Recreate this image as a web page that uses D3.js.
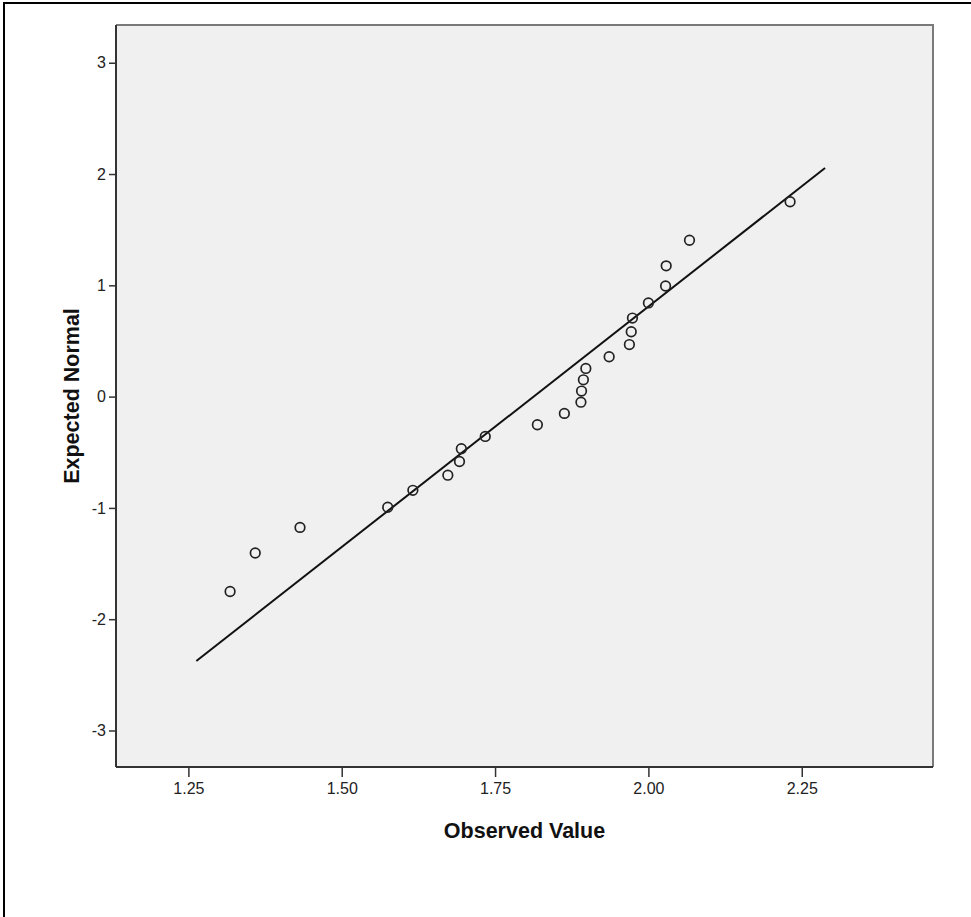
<!DOCTYPE html>
<html>
<head>
<meta charset="utf-8">
<script src="https://cdn.jsdelivr.net/npm/d3@7"></script>
<style>
  body { margin: 0; background: #fff; }
  svg { display: block; }
</style>
</head>
<body>
<div id="chart"></div>
<script>
// observed values (sorted) and their expected normal scores
var observed = [1.318, 1.359, 1.432, 1.575, 1.616, 1.673, 1.692, 1.695, 1.734, 1.819, 1.863, 1.890,
                1.891, 1.894, 1.898, 1.936, 1.969, 1.972, 1.974, 2.000, 2.028, 2.029, 2.067, 2.231];
var expected = [-1.751, -1.405, -1.175, -0.994, -0.842, -0.706, -0.583, -0.468, -0.358, -0.253, -0.151, -0.050,
                0.050, 0.151, 0.253, 0.358, 0.468, 0.583, 0.706, 0.842, 0.994, 1.175, 1.405, 1.751];
// reference line end points
var lineX = [1.263, 2.288];
var lineY = [-2.376, 2.054];
var xTicks = [1.25, 1.50, 1.75, 2.00, 2.25];
var yTicks = [-3, -2, -1, 0, 1, 2, 3];

var w = 971, h = 917;
var pLeft = 116, pTop = 25, pRight = 933, pBottom = 767;

var svg = d3.select("#chart").append("svg").attr("width", w).attr("height", h);

// outer frame (only top and left edges visible)
svg.append("path").attr("d", "M4,917 L4,3 L971,3")
    .attr("fill", "none").attr("stroke", "#000").attr("stroke-width", 2);

var x = d3.scaleLinear().domain([1.132, 2.464]).range([pLeft, pRight]);
var y = d3.scaleLinear().domain([-3.328, 3.339]).range([pBottom, pTop]);

svg.append("rect")
    .attr("x", pLeft).attr("y", pTop)
    .attr("width", pRight - pLeft).attr("height", pBottom - pTop)
    .attr("fill", "#f0f0f0");
// top and right border
svg.append("path").attr("d", "M" + pLeft + "," + pTop + " L" + pRight + "," + pTop + " L" + pRight + "," + pBottom)
    .attr("fill", "none").attr("stroke", "#7a7a7a").attr("stroke-width", 2);

var xAxis = svg.append("g").attr("transform", "translate(0," + pBottom + ")")
    .call(d3.axisBottom(x).tickValues(xTicks).tickFormat(d3.format(".2f")).tickSizeInner(10).tickSizeOuter(0).tickPadding(6));
var yAxis = svg.append("g").attr("transform", "translate(" + pLeft + ",0)")
    .call(d3.axisLeft(y).tickValues(yTicks).tickFormat(function (d) { return String(d); }).tickSizeInner(7).tickSizeOuter(0).tickPadding(3));

[xAxis, yAxis].forEach(function (g) {
    g.select(".domain").attr("stroke", "#333").attr("stroke-width", 2);
    g.selectAll(".tick line").attr("stroke", "#333").attr("stroke-width", 1.5);
    g.selectAll(".tick text")
        .attr("font-family", "'Liberation Sans', Arial, sans-serif")
        .attr("font-size", 16).attr("fill", "#222");
});
yAxis.select(".domain").attr("d", "M0," + pTop + "V" + pBottom);
xAxis.select(".domain").attr("d", "M" + pLeft + ",0H" + pRight);

// reference line
svg.append("line")
    .attr("x1", x(lineX[0])).attr("y1", y(lineY[0]))
    .attr("x2", x(lineX[1])).attr("y2", y(lineY[1]))
    .attr("stroke", "#111").attr("stroke-width", 2);

svg.selectAll("circle.pt")
    .data(observed)
    .enter()
    .append("circle")
    .attr("class", "pt")
    .attr("cx", function (d) { return x(d); })
    .attr("cy", function (d, i) { return y(expected[i]); })
    .attr("r", 4.8)
    .attr("fill", "none")
    .attr("stroke", "#222")
    .attr("stroke-width", 1.7);

// axis titles
svg.append("text")
    .attr("x", (pLeft + pRight) / 2).attr("y", 838)
    .attr("text-anchor", "middle")
    .attr("font-family", "'Liberation Sans', Arial, sans-serif")
    .attr("font-weight", "bold").attr("font-size", 21.5).attr("fill", "#111")
    .text("Observed Value");

svg.append("text")
    .attr("transform", "translate(79," + (pTop + pBottom) / 2 + ") rotate(-90)")
    .attr("text-anchor", "middle")
    .attr("font-family", "'Liberation Sans', Arial, sans-serif")
    .attr("font-weight", "bold").attr("font-size", 21.5).attr("fill", "#111")
    .text("Expected Normal");
</script>
</body>
</html>
